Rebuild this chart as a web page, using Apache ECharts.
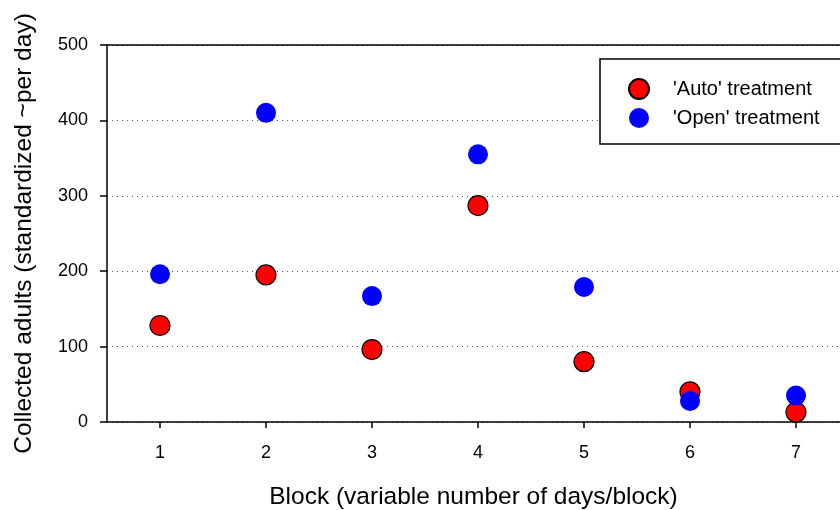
<!DOCTYPE html>
<html>
<head>
<meta charset="utf-8">
<script src="https://cdn.jsdelivr.net/npm/echarts@6/dist/echarts.min.js"></script>
<style>
  html, body { margin: 0; padding: 0; background: #fff; }
  #chart { width: 840px; height: 510px; }
</style>
</head>
<body>
<div id="chart"></div>
<script>
// Blocks and collected adults per treatment
const blocks = [1, 2, 3, 4, 5, 6, 7];
const autoTreatment = [128, 195, 96, 287, 80, 40, 13];
const openTreatment = [196, 410, 167, 355, 179, 28, 35];
const yTicks = [0, 100, 200, 300, 400, 500];

// x range: half a block of padding on the left, plot runs off the right edge
const X_MIN = 0.5;
const X_MAX = 7.415;

const FONT = 'Liberation Sans, Arial, sans-serif';

const chart = echarts.init(document.getElementById('chart'));

chart.setOption({
  animation: false,
  backgroundColor: '#fff',
  grid: {
    left: 107, top: 45, right: 0, height: 377,
    containLabel: false, outerBoundsMode: 'none'
  },
  legend: {
    left: 600, top: 59,
    orient: 'vertical',
    padding: [19, 40, 16, 28],
    itemGap: 8,
    itemWidth: 20, itemHeight: 20,
    backgroundColor: '#fff',
    borderColor: '#000', borderWidth: 1.5,
    borderRadius: 0,
    textStyle: { fontFamily: FONT, fontSize: 20, color: '#000', padding: [0, 0, 0, 19] },
    data: [
      { name: "'Auto' treatment", icon: 'circle' },
      { name: "'Open' treatment", icon: 'circle' }
    ]
  },
  xAxis: [{
    type: 'value',
    min: X_MIN, max: X_MAX,
    name: 'Block (variable number of days/block)',
    nameLocation: 'middle',
    nameGap: 63,
    nameTextStyle: { fontFamily: FONT, fontSize: 24.5, color: '#000' },
    axisLine: { show: true, onZero: false, lineStyle: { color: '#000', width: 1.5 } },
    axisTick: { show: true, length: 6, customValues: blocks, lineStyle: { color: '#000', width: 1.5 } },
    axisLabel: {
      fontFamily: FONT, fontSize: 18, color: '#000', margin: 22,
      customValues: blocks
    },
    splitLine: { show: false }
  }, {
    type: 'value',
    position: 'top',
    min: X_MIN, max: X_MAX,
    axisLine: { show: true, onZero: false, lineStyle: { color: '#000', width: 1.5 } },
    axisTick: { show: false },
    axisLabel: { show: false },
    splitLine: { show: false }
  }],
  yAxis: {
    type: 'value',
    min: yTicks[0], max: yTicks[yTicks.length - 1],
    interval: 100,
    name: 'Collected adults (standardized ~per day)',
    nameLocation: 'middle',
    nameGap: 70,
    nameTextStyle: { fontFamily: FONT, fontSize: 24.5, color: '#000' },
    axisLine: { show: true, onZero: false, lineStyle: { color: '#000', width: 1.5 } },
    axisTick: { show: true, length: 7, lineStyle: { color: '#000', width: 1.5 } },
    axisLabel: { fontFamily: FONT, fontSize: 18, color: '#000', margin: 19 },
    splitLine: {
      show: true,
      lineStyle: { color: '#555', width: 1, type: [1, 4] }
    }
  },
  series: [
    {
      name: "'Auto' treatment",
      type: 'scatter',
      symbol: 'circle',
      symbolSize: 20,
      itemStyle: { color: '#ff0000', borderColor: '#000', borderWidth: 1.2, opacity: 1 },
      data: blocks.map((b, i) => [b, autoTreatment[i]]),
      z: 2
    },
    {
      name: "'Open' treatment",
      type: 'scatter',
      symbol: 'circle',
      symbolSize: 20,
      itemStyle: { color: '#0000ff', opacity: 1 },
      data: blocks.map((b, i) => [b, openTreatment[i]]),
      z: 3
    }
  ]
});
</script>
</body>
</html>
